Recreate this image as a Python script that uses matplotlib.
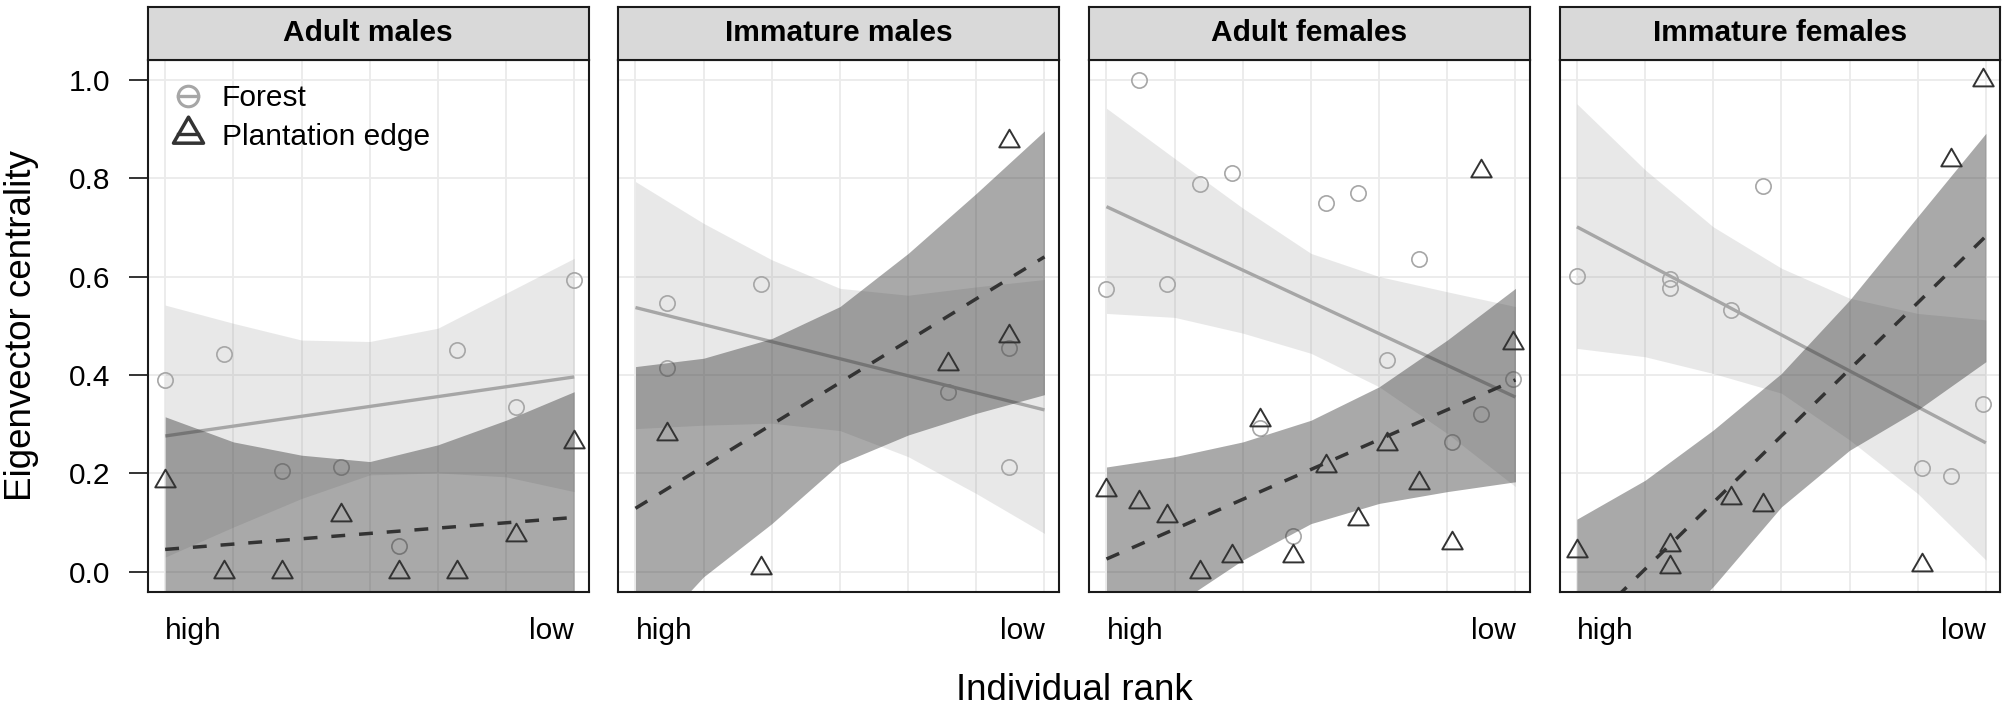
import numpy as np
import matplotlib
matplotlib.use("Agg")
import matplotlib.pyplot as plt
from matplotlib.lines import Line2D
from matplotlib.path import Path
from matplotlib.transforms import blended_transform_factory

plt.rcParams['font.family'] = ['Liberation Sans', 'DejaVu Sans']

# ---------------- data ----------------
panels = ["Adult males", "Immature males", "Adult females", "Immature females"]
site_labels = ["Forest", "Plantation edge"]
x_tick_labels = ["high", "low"]
y_ticks = [0.0, 0.2, 0.4, 0.6, 0.8, 1.0]

# Adult males
am_forest_x = [0.0, 0.143, 0.286, 0.429, 0.571, 0.714, 0.857, 1.0]
am_forest_y = [0.390, 0.443, 0.205, 0.212, 0.053, 0.451, 0.335, 0.593]
am_plant_x = [0.0, 0.143, 0.286, 0.429, 0.571, 0.714, 0.857, 1.0]
am_plant_y = [0.185, 0.0, 0.0, 0.115, 0.0, 0.0, 0.075, 0.264]

# Immature males
im_forest_x = [0.078, 0.078, 0.308, 0.765, 0.914, 0.914]
im_forest_y = [0.547, 0.415, 0.584, 0.366, 0.454, 0.213]
im_plant_x = [0.078, 0.308, 0.765, 0.914, 0.914]
im_plant_y = [0.280, 0.008, 0.422, 0.480, 0.875]

# Adult females
af_forest_x = [0.0, 0.079, 0.148, 0.228, 0.308, 0.376, 0.456, 0.536, 0.616, 0.685, 0.765, 0.845, 0.915, 0.994]
af_forest_y = [0.574, 1.0, 0.585, 0.789, 0.811, 0.293, 0.073, 0.749, 0.770, 0.430, 0.636, 0.264, 0.320, 0.391]
af_plant_x = [0.0, 0.079, 0.148, 0.228, 0.308, 0.376, 0.456, 0.536, 0.616, 0.685, 0.765, 0.845, 0.915, 0.994]
af_plant_y = [0.166, 0.142, 0.114, 0.0, 0.033, 0.308, 0.033, 0.216, 0.107, 0.260, 0.180, 0.058, 0.815, 0.464]

# Immature females
if_forest_x = [0.0, 0.228, 0.228, 0.376, 0.456, 0.845, 0.915, 0.994]
if_forest_y = [0.601, 0.594, 0.576, 0.532, 0.783, 0.211, 0.195, 0.342]
if_plant_x = [0.0, 0.228, 0.228, 0.376, 0.456, 0.845, 0.915, 0.994]
if_plant_y = [0.042, 0.054, 0.009, 0.150, 0.136, 0.014, 0.837, 1.0]

# fitted lines (value at high rank x=0 and low rank x=1)
forest_fit_start = [0.276, 0.537, 0.742, 0.701]
forest_fit_end = [0.396, 0.329, 0.355, 0.262]
plant_fit_start = [0.0455, 0.129, 0.026, -0.130]
plant_fit_end = [0.1105, 0.640, 0.390, 0.682]

# confidence bands, read at x = 0, 1/6, ..., 1
band_x = [0.0, 1/6, 2/6, 3/6, 4/6, 5/6, 1.0]
forest_upper = [
    [0.542, 0.505, 0.471, 0.468, 0.495, 0.566, 0.637],
    [0.793, 0.708, 0.634, 0.576, 0.562, 0.579, 0.594],
    [0.942, 0.840, 0.739, 0.647, 0.600, 0.569, 0.539],
    [0.951, 0.817, 0.701, 0.617, 0.556, 0.525, 0.512],
]
forest_lower = [
    [0.030, 0.091, 0.149, 0.197, 0.201, 0.193, 0.163],
    [0.291, 0.298, 0.302, 0.287, 0.234, 0.159, 0.078],
    [0.525, 0.517, 0.485, 0.444, 0.376, 0.281, 0.173],
    [0.454, 0.437, 0.403, 0.363, 0.268, 0.159, 0.024],
]
plant_upper = [
    [0.315, 0.264, 0.237, 0.224, 0.258, 0.308, 0.366],
    [0.417, 0.434, 0.474, 0.539, 0.647, 0.769, 0.896],
    [0.213, 0.234, 0.264, 0.308, 0.376, 0.471, 0.576],
    [0.107, 0.186, 0.288, 0.403, 0.552, 0.722, 0.891],
]
plant_lower = [
    [-0.224, -0.151, -0.103, -0.068, -0.080, -0.109, -0.145],
    [-0.159, -0.010, 0.098, 0.220, 0.278, 0.322, 0.360],
    [-0.160, -0.068, 0.024, 0.098, 0.139, 0.163, 0.183],
    [-0.366, -0.174, -0.030, 0.132, 0.247, 0.329, 0.427],
]

forest_x = [am_forest_x, im_forest_x, af_forest_x, if_forest_x]
forest_y = [am_forest_y, im_forest_y, af_forest_y, if_forest_y]
plant_x = [am_plant_x, im_plant_x, af_plant_x, if_plant_x]
plant_y = [am_plant_y, im_plant_y, af_plant_y, if_plant_y]

# ---------------- style ----------------
W, H = 2007, 707
forest_col = '#a6a6a6'
plant_col = '#333333'
grid_col = '#ebebeb'
small_fs = 21.5
title_fs = 26.5

tri = Path([(0, 1), (-0.866, -0.5), (0.866, -0.5), (0, 1)],
           [Path.MOVETO, Path.LINETO, Path.LINETO, Path.CLOSEPOLY])

fig = plt.figure(figsize=(W / 100, H / 100), dpi=100)
fig.patch.set_facecolor('white')

lefts = [148, 618.3, 1089.3, 1559.7]
pw = 440.5
p_top, p_bot = 60, 592
s_top = 6.7

for i, name in enumerate(panels):
    L = lefts[i]
    ax = fig.add_axes([L / W, (H - p_bot) / H, pw / W, (p_bot - p_top) / H])
    ax.set_xlim(-0.042, 1.035)
    ax.set_ylim(-0.041, 1.04)
    ax.set_axisbelow(True)
    ax.set_xticks(band_x)
    ax.set_xticklabels([])
    ax.set_yticks(y_ticks)
    ax.grid(True, color=grid_col, lw=1.3, zorder=0)
    ax.tick_params(axis='x', length=0)
    for sp in ax.spines.values():
        sp.set_linewidth(1.5)
        sp.set_color('#1a1a1a')
        sp.set_zorder(10)
    if i == 0:
        ax.set_yticklabels([f"{v:.1f}" for v in y_ticks])
        ax.tick_params(axis='y', length=13.7, width=1.4, pad=13.5,
                       labelsize=small_fs, color='#333333', labelcolor='black')
    else:
        ax.set_yticklabels([])
        ax.tick_params(axis='y', length=0)

    # forest layer
    ax.fill_between(band_x, forest_lower[i], forest_upper[i], color='#999999',
                    alpha=0.22, lw=0, zorder=1)
    ax.plot([0, 1], [forest_fit_start[i], forest_fit_end[i]], color=forest_col,
            lw=2.4, solid_capstyle='butt', zorder=1.5)
    ax.plot(forest_x[i], forest_y[i], ls='none', marker='o', ms=11,
            mfc='none', mec=forest_col, mew=1.2, zorder=2)
    # plantation layer
    ax.fill_between(band_x, plant_lower[i], plant_upper[i], color='#333333',
                    alpha=0.42, lw=0, zorder=3)
    ax.plot([0, 1], [plant_fit_start[i], plant_fit_end[i]], color=plant_col,
            lw=2.5, ls=(0, (4, 4)), dash_capstyle='butt', zorder=3.5)
    ax.plot(plant_x[i], plant_y[i], ls='none', marker=tri, ms=17,
            mfc='none', mec=plant_col, mew=1.4, zorder=4)

    trans = blended_transform_factory(ax.transData, fig.transFigure)
    ax.text(0, (H - 639) / H, x_tick_labels[0], transform=trans, ha='left',
            va='baseline', fontsize=small_fs)
    ax.text(1, (H - 639) / H, x_tick_labels[1], transform=trans, ha='right',
            va='baseline', fontsize=small_fs)

    if i == 0:
        h1 = Line2D([], [], color=forest_col, lw=2.4, marker='o', ms=14.8,
                    mfc='none', mew=2.2)
        h2 = Line2D([], [], color=plant_col, lw=2.4, marker=tri, ms=25,
                    mfc='none', mew=2.5)
        ax.legend([h1, h2], site_labels, loc='upper left',
                  bbox_to_anchor=(0.067, 0.954), frameon=False,
                  handlelength=0.7, handletextpad=0.78, labelspacing=0.35,
                  borderpad=0, borderaxespad=0, fontsize=small_fs)

    # strip
    sax = fig.add_axes([L / W, (H - p_top) / H, pw / W, (p_top - s_top) / H])
    sax.set_facecolor('#d9d9d9')
    sax.set_xticks([])
    sax.set_yticks([])
    for sp in sax.spines.values():
        sp.set_linewidth(1.5)
        sp.set_color('#1a1a1a')
    sax.text(0.5, 0.5, name, transform=sax.transAxes, ha='center', va='center',
             fontsize=small_fs, fontweight='bold')

fig.text(21.7 / W, 1 - 326 / H, "Eigenvector centrality", rotation=90,
         ha='center', va='center', fontsize=title_fs)
fig.text(1074 / W, (H - 700.5) / H, "Individual rank", ha='center',
         va='baseline', fontsize=title_fs)

fig.savefig("out.png", dpi=100)
